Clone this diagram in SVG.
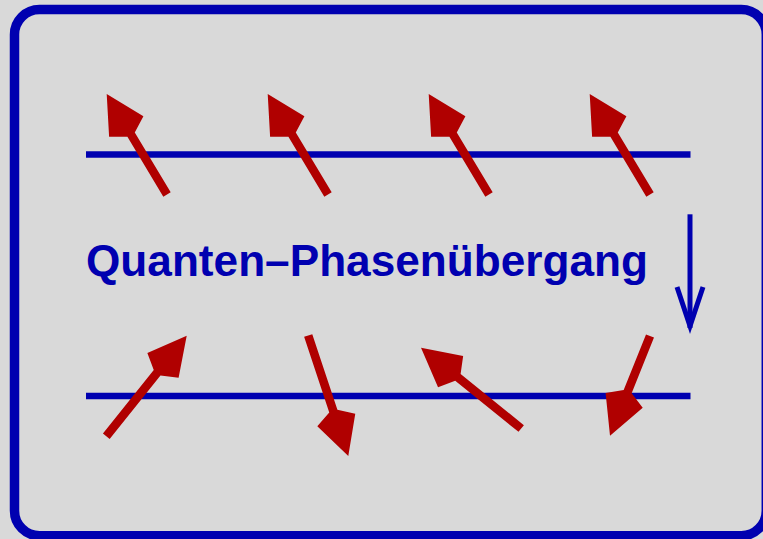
<svg xmlns="http://www.w3.org/2000/svg" width="763" height="539" viewBox="0 0 763 539">
<style>
.spin{fill:#b00000;}
.chain{stroke:#0000b0;stroke-width:6.5;fill:none;}
.lbl{font-family:"Liberation Sans",Arial,sans-serif;font-weight:bold;font-size:45px;fill:#0000b0;}
</style>
<rect x="0" y="0" width="763" height="539" fill="#d9d9d9"/>
<rect id="frame" x="14.5" y="9.5" width="751.8" height="526.3" rx="25" ry="25" fill="#d9d9d9" stroke="#0000b0" stroke-width="9.5"/>
<g id="chain-top"><line class="chain" x1="86" y1="154.5" x2="690.5" y2="154.5"/></g>
<g id="chain-bottom"><line class="chain" x1="86" y1="396" x2="690.5" y2="396"/></g>
<g id="spins-top">
<path class="spin" transform="translate(167,194.5) rotate(-120.96)" d="M0,-4.3 L69.8,-4.3 L79.2,-20 L117.2,0 L79.2,20 L69.8,4.3 L0,4.3 Z"/>
<path class="spin" transform="translate(328,194.5) rotate(-120.96)" d="M0,-4.3 L69.8,-4.3 L79.2,-20 L117.2,0 L79.2,20 L69.8,4.3 L0,4.3 Z"/>
<path class="spin" transform="translate(489,194.5) rotate(-120.96)" d="M0,-4.3 L69.8,-4.3 L79.2,-20 L117.2,0 L79.2,20 L69.8,4.3 L0,4.3 Z"/>
<path class="spin" transform="translate(650,194.5) rotate(-120.96)" d="M0,-4.3 L69.8,-4.3 L79.2,-20 L117.2,0 L79.2,20 L69.8,4.3 L0,4.3 Z"/>
</g>
<g id="spins-bottom">
<path class="spin" transform="translate(106.3,436.3) rotate(-51.37)" d="M0,-4.3 L81.4,-4.3 L90.8,-20 L128.8,0 L90.8,20 L81.4,4.3 L0,4.3 Z"/>
<path class="spin" transform="translate(308.2,335.5) rotate(71.6)" d="M0,-4.3 L79.6,-4.3 L89,-20 L127,0 L89,20 L79.6,4.3 L0,4.3 Z"/>
<path class="spin" transform="translate(521.2,428.5) rotate(-141.12)" d="M0,-4.3 L81.3,-4.3 L90.7,-20 L128.7,0 L90.7,20 L81.3,4.3 L0,4.3 Z"/>
<path class="spin" transform="translate(650,336) rotate(111.86)" d="M0,-4.3 L60,-4.3 L69.4,-20 L107.4,0 L69.4,20 L60,4.3 L0,4.3 Z"/>
</g>
<g id="transition-arrow" stroke="#0000b0" fill="none">
<line x1="690" y1="214.3" x2="690" y2="328" stroke-width="5"/>
<polyline points="677,287 690,326 703,287" stroke-width="5" stroke-linejoin="miter" stroke-miterlimit="12"/>
</g>
<g id="label"><text class="lbl" x="86" y="275.7" textLength="562" lengthAdjust="spacingAndGlyphs">Quanten–Phasenübergang</text></g>
</svg>
